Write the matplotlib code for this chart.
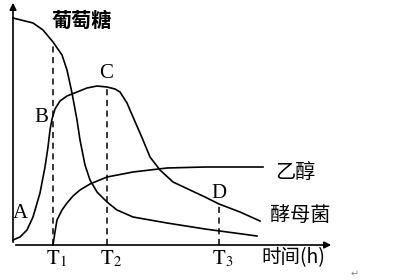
import matplotlib
matplotlib.use('Agg')
import matplotlib.pyplot as plt

plt.rcParams['font.family'] = ['Noto Sans CJK SC', 'DejaVu Sans']
plt.rcParams['mathtext.fontset'] = 'stix'

# 数据（示意图坐标）
glucose_t = [0, 20, 30, 40, 49, 54, 59, 64, 67, 72, 77, 84, 94, 104, 120, 154, 192, 244]
glucose_v = [227, 222, 215, 203, 190, 175, 152, 125, 105, 80, 65, 53, 43, 35, 28, 22, 16, 9]

yeast_t = [0, 7, 14, 20, 27, 32, 35, 37, 39, 42, 47, 54, 64, 74, 84, 94, 102, 107, 114,
           120, 127, 130, 137, 147, 160, 177, 192, 206, 227, 247]
yeast_v = [5, 8, 15, 28, 52, 78, 98, 115, 126, 136, 144, 149, 153, 157, 159, 158, 156, 153, 142,
           128, 112, 105, 88, 75, 63, 55, 48, 41, 33, 24]

ethanol_t = [40, 42, 44, 49, 54, 60, 67, 77, 94, 120, 154, 192, 250]
ethanol_v = [0, 13, 25, 35, 42, 49, 55, 61, 68, 73, 77, 78, 78]

t_marks = [40, 94, 206]
t_tops = [203, 158, 41]
t_labels = [r'$\mathrm{T}_1$', r'$\mathrm{T}_2$', r'$\mathrm{T}_3$']

fig = plt.figure(figsize=(4.1, 2.8), dpi=100)
ax = fig.add_axes([0, 0, 1, 1])
ax.set_xlim(-13, 397)
ax.set_ylim(-35, 245)
ax.axis('off')

lw = 1.2
ax.plot(glucose_t, glucose_v, color='black', lw=lw)
ax.plot(yeast_t, yeast_v, color='black', lw=lw)
ax.plot(ethanol_t, ethanol_v, color='black', lw=lw)

for t, top in zip(t_marks, t_tops):
    ax.plot([t, t], [0, top], color='black', lw=1.1, ls=(0, (4, 3)))

# 坐标轴箭头
ax.annotate('', xy=(0, 245), xytext=(0, 0),
            arrowprops=dict(arrowstyle='-|>', color='black', lw=1.2, mutation_scale=10))
ax.annotate('', xy=(321, 0), xytext=(0, 0),
            arrowprops=dict(arrowstyle='-|>', color='black', lw=1.2, mutation_scale=10))

serif = dict(family='Liberation Serif', fontsize=15)
ax.text(28, 127, 'B', ha='center', va='center', **serif)
ax.text(93, 172, 'C', ha='center', va='center', **serif)
ax.text(7, 32, 'A', ha='center', va='center', **serif)
ax.text(206, 52, 'D', ha='center', va='center', **serif)

for t, lab in zip(t_marks, t_labels):
    ax.text(t - 7, -13, lab, ha='left', va='center', fontsize=15)

ax.text(69, 225, '葡萄糖', ha='center', va='center', fontsize=14.5, fontweight='bold')
ax.text(282, 72, '乙醇', ha='center', va='center', fontsize=14.5)
ax.text(287, 30, '酵母菌', ha='center', va='center', fontsize=14.5)
ax.text(280, -13, '时间(h)', ha='center', va='center', fontsize=14)
ax.text(342, -29, '↵', ha='center', va='center', fontsize=7, color='#888888',
        family='DejaVu Sans')

fig.savefig('out.png', dpi=100, facecolor='white')
